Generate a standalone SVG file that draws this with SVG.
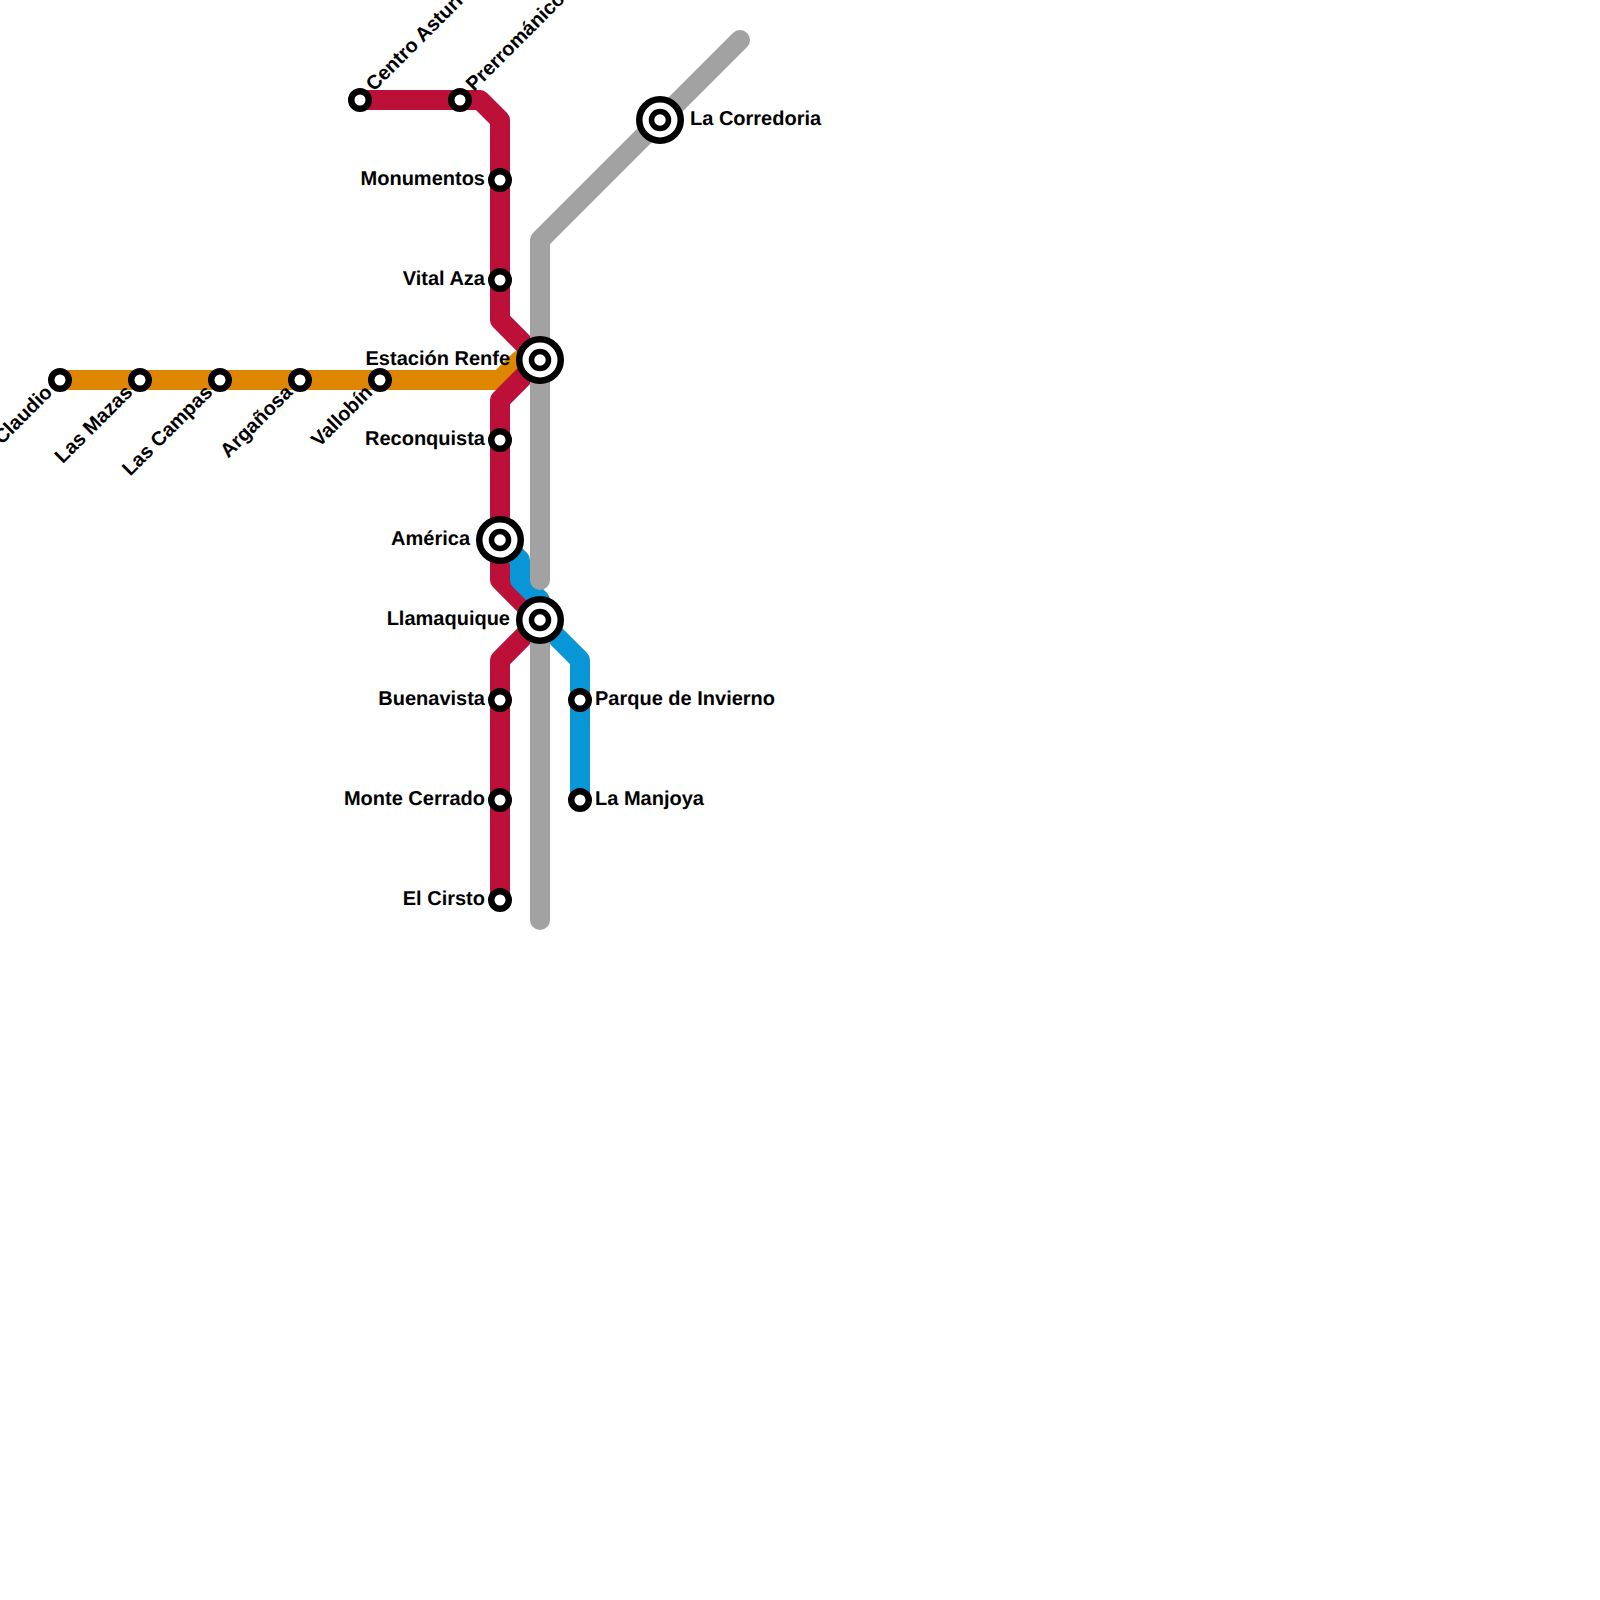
<svg xmlns="http://www.w3.org/2000/svg" width="1600" height="1600" viewBox="0 0 1600 1600">
<style>
.l{fill:none;stroke-width:20;stroke-linecap:round;stroke-linejoin:round}
.s{fill:#fff;stroke:#000;stroke-width:6.5}
text{font-family:"Liberation Sans",Arial,sans-serif;font-weight:700;font-size:20px;fill:#000;text-rendering:geometricPrecision}
.e{text-anchor:end}
</style>
<defs>
<g id="int"><circle r="20.75" fill="#fff" stroke="#000" stroke-width="6.5"/><circle r="8.5" fill="#fff" stroke="#000" stroke-width="5.5"/></g>
<circle id="st" class="s" r="8.75"/>
</defs>
<rect width="1600" height="1600" fill="#fff"/>
<g id="connectors">
<path class="l" stroke="#df8600" d="M60 380H500L520 360H540"/>
<path class="l" stroke="#bd1038" d="M360 100H480L500 120V320L540 360L500 400V580L540 620L500 660V900"/>
<path class="l" stroke="#0896d7" d="M500 540L520 560V580L540 600V620L580 660V800"/>
<path class="l" stroke="#a2a2a2" d="M740 40L540 240V580M540 620V920"/>
</g>
<g id="n-centro"><use href="#st" x="360" y="100"/><text transform="translate(374 92) rotate(-45)">Centro Asturi</text></g>
<g id="n-prerromanico"><use href="#st" x="460" y="100"/><text transform="translate(474 92) rotate(-45)">Prerrománico</text></g>
<g id="n-monumentos"><use href="#st" x="500" y="180"/><text class="e" x="485" y="185">Monumentos</text></g>
<g id="n-vital"><use href="#st" x="500" y="280"/><text class="e" x="485" y="285">Vital Aza</text></g>
<g id="n-estacion"><use href="#int" x="540" y="360"/><text class="e" x="510" y="365">Estación Renfe</text></g>
<g id="n-claudio"><use href="#st" x="60" y="380"/><text class="e" transform="translate(53.5 393.5) rotate(-45)">Claudio</text></g>
<g id="n-mazas"><use href="#st" x="140" y="380"/><text class="e" transform="translate(133.5 393.5) rotate(-45)">Las Mazas</text></g>
<g id="n-campas"><use href="#st" x="220" y="380"/><text class="e" transform="translate(213.5 393.5) rotate(-45)">Las Campas</text></g>
<g id="n-arganosa"><use href="#st" x="300" y="380"/><text class="e" transform="translate(293.5 393.5) rotate(-45)">Argañosa</text></g>
<g id="n-vallobin"><use href="#st" x="380" y="380"/><text class="e" transform="translate(373.5 393.5) rotate(-45)">Vallobín</text></g>
<g id="n-reconquista"><use href="#st" x="500" y="440"/><text class="e" x="485" y="445">Reconquista</text></g>
<g id="n-america"><use href="#int" x="500" y="540"/><text class="e" x="470" y="545">América</text></g>
<g id="n-llamaquique"><use href="#int" x="540" y="620"/><text class="e" x="510" y="625">Llamaquique</text></g>
<g id="n-buenavista"><use href="#st" x="500" y="700"/><text class="e" x="485" y="705">Buenavista</text></g>
<g id="n-montecerrado"><use href="#st" x="500" y="800"/><text class="e" x="485" y="805">Monte Cerrado</text></g>
<g id="n-cirsto"><use href="#st" x="500" y="900"/><text class="e" x="485" y="905">El Cirsto</text></g>
<g id="n-parque"><use href="#st" x="580" y="700"/><text x="595" y="705">Parque de Invierno</text></g>
<g id="n-manjoya"><use href="#st" x="580" y="800"/><text x="595" y="805">La Manjoya</text></g>
<g id="n-corredoria"><use href="#int" x="660" y="120"/><text x="690" y="125">La Corredoria</text></g>
</svg>
